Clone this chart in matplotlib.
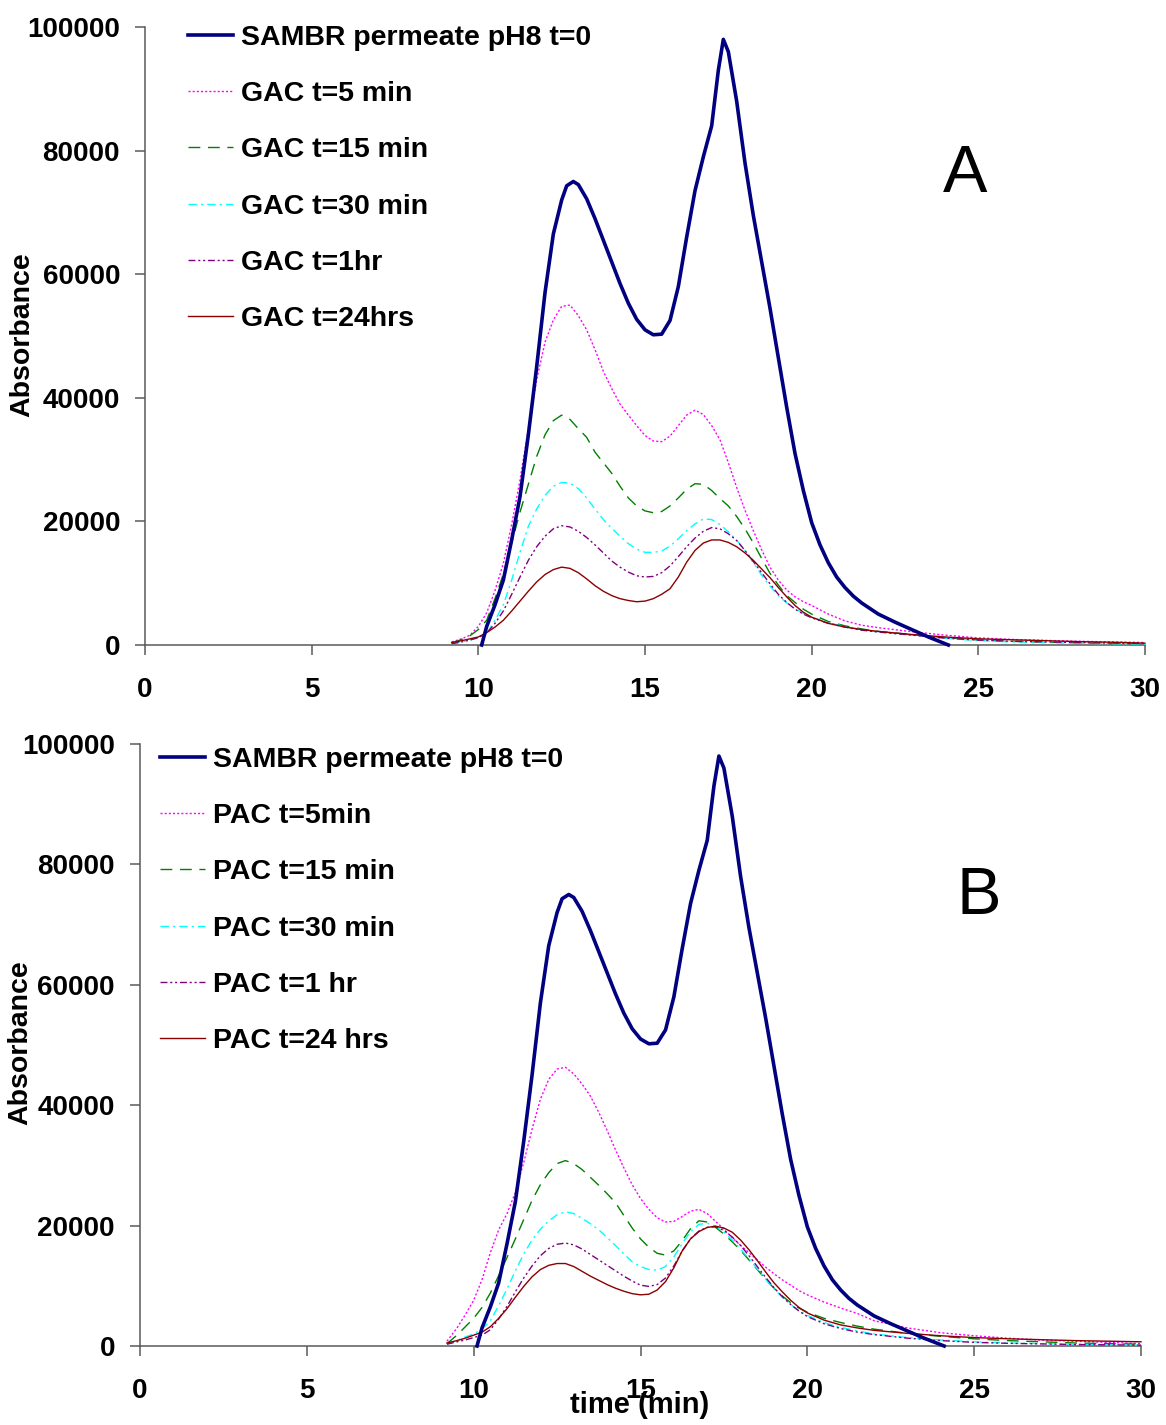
import numpy as np
import matplotlib
matplotlib.use("Agg")
import matplotlib.pyplot as plt

# ---------------- data ----------------
# reference run (same in both panels)
t_sambr = [10.1, 10.25, 10.5, 10.75, 11.0, 11.25, 11.5, 11.75, 12.0, 12.25, 12.5, 12.65, 12.85, 13.0,
           13.25, 13.5, 13.75, 14.0, 14.25, 14.5, 14.75, 15.0, 15.25, 15.5, 15.75, 16.0, 16.25,
           16.5, 16.75, 17.0, 17.2, 17.35, 17.5, 17.75, 18.0, 18.25, 18.5, 18.75, 19.0, 19.25,
           19.5, 19.75, 20.0, 20.25, 20.5, 20.75, 21.0, 21.25, 21.5, 22.0, 22.5, 23.0, 23.5, 24.1]
y_sambr = [0, 3000, 6500, 10500, 17000, 24000, 34000, 45000, 57000, 66500, 72000, 74300, 75000, 74500,
           72200, 69000, 65500, 62000, 58500, 55300, 52700, 51000, 50200, 50300, 52500, 58000, 66000,
           73500, 79000, 84000, 93000, 98000, 96000, 88000, 78000, 69500, 62000, 54500, 46500, 38500,
           31000, 25000, 19800, 16200, 13300, 11000, 9300, 7900, 6800, 5000, 3700, 2500, 1300, 0]

# common time grid for the treated samples
t_grid = [9.2, 9.5, 9.75, 10.0, 10.25, 10.5, 10.75, 11.0, 11.25, 11.5, 11.75, 12.0, 12.25, 12.5,
          12.75, 13.0, 13.25, 13.5, 13.75, 14.0, 14.25, 14.5, 14.75, 15.0, 15.25, 15.5, 15.75,
          16.0, 16.25, 16.5, 16.75, 17.0, 17.25, 17.5, 17.75, 18.0, 18.25, 18.5, 18.75, 19.0,
          19.25, 19.5, 19.75, 20.0, 20.5, 21.0, 21.5, 22.0, 23.0, 24.0, 25.0, 26.0, 27.0, 28.0,
          29.0, 30.0]

# Panel A : GAC
gac_5min = [500, 1000, 1600, 3000, 5200, 8800, 13200, 19500, 26700, 35000, 42900, 49000, 52600, 54800,
            55000, 53300, 51000, 47800, 44300, 41500, 39000, 37200, 35500, 33900, 33000, 32900, 33800,
            35500, 37200, 38000, 37300, 35500, 33200, 29500, 25500, 21800, 18500, 15400, 12600, 10500,
            8900, 7800, 7000, 6400, 5000, 3900, 3200, 2800, 2150, 1600, 1150, 900, 750, 600, 500, 400]
gac_15min = [300, 900, 1500, 2500, 4000, 7500, 11500, 16500, 21500, 26000, 30500, 34000, 36300, 37200,
             36500, 35000, 33600, 31200, 29500, 27800, 25700, 23800, 22500, 21700, 21400, 21600, 22500,
             23800, 25200, 26100, 26000, 25000, 23700, 22500, 20800, 18800, 16500, 14000, 11600, 9700,
             8000, 6900, 5800, 5000, 3800, 3100, 2600, 2200, 1700, 1200, 800, 600, 450, 350, 250, 200]
gac_30min = [200, 500, 800, 1200, 1900, 4000, 6500, 10500, 15000, 19200, 22000, 24200, 25700, 26300,
             26200, 25300, 23800, 22000, 20300, 18900, 17600, 16400, 15500, 15000, 15000, 15200, 16000,
             17200, 18500, 19600, 20400, 20300, 19500, 18300, 17000, 15300, 13300, 11300, 9500, 8000,
             6800, 5900, 5100, 4500, 3600, 3000, 2500, 2100, 1600, 1100, 700, 500, 400, 300, 200, 150]
gac_1hr = [200, 500, 800, 1200, 1900, 3500, 5500, 8200, 11000, 13700, 15900, 17600, 18800, 19300,
           19100, 18400, 17400, 16200, 14900, 13600, 12600, 11800, 11200, 11000, 11100, 11700, 12800,
           14300, 15900, 17300, 18400, 19000, 18800, 18000, 16900, 15300, 13500, 11700, 9900, 8200,
           6900, 5800, 5000, 4400, 3500, 2900, 2400, 2100, 1600, 1100, 800, 600, 500, 400, 300, 250]
gac_24hrs = [400, 700, 1000, 1300, 2000, 2900, 4000, 5500, 7100, 8700, 10200, 11400, 12200, 12600,
             12400, 11700, 10700, 9600, 8700, 8000, 7500, 7200, 7000, 7100, 7500, 8200, 9100,
             11000, 13400, 15300, 16500, 17000, 17000, 16600, 15900, 14900, 13700, 12300, 10900, 9300,
             7800, 6400, 5300, 4500, 3500, 2900, 2500, 2200, 1700, 1300, 1000, 850, 700, 550, 450, 300]

# Panel B : PAC
pac_5min = [800, 3000, 5200, 7600, 11000, 15500, 19300, 22000, 25500, 30500, 36000, 41000, 44300, 46000,
            46300, 45200, 43500, 41500, 38800, 35800, 32600, 29600, 26800, 24500, 22700, 21300, 20600,
            20700, 21500, 22400, 22700, 22000, 20700, 19400, 18000, 16700, 15500, 14300, 13100, 12000,
            11000, 10100, 9200, 8500, 7300, 6300, 5400, 4200, 3000, 2200, 1700, 1300, 1000, 800, 600, 400]
pac_15min = [400, 1800, 3200, 4600, 6400, 8800, 11700, 14700, 17800, 21000, 24200, 26800, 28800, 30300,
             30800, 30300, 29300, 28000, 26700, 25300, 23800, 21700, 19600, 17800, 16400, 15400, 15100,
             15800, 17500, 19500, 20800, 20600, 19700, 18600, 17300, 15900, 14300, 12700, 11100, 9600,
             8300, 7200, 6300, 5600, 4600, 3900, 3300, 2800, 2100, 1600, 1200, 900, 700, 500, 400, 300]
pac_30min = [300, 900, 1500, 2000, 2800, 4200, 6700, 9500, 12500, 15300, 17600, 19400, 20800, 21800,
             22300, 22000, 21200, 20300, 19300, 18000, 16700, 15300, 14000, 13200, 12700, 12600, 13200,
             14800, 17000, 19000, 20200, 20400, 19900, 18900, 17600, 16100, 14500, 12800, 11100, 9500,
             8100, 6900, 5900, 5100, 3900, 3100, 2500, 2000, 1400, 1000, 700, 500, 400, 300, 200, 150]
pac_1hr = [300, 700, 1000, 1400, 1800, 2700, 4500, 6600, 9000, 11300, 13300, 15000, 16200, 16900,
           17100, 16800, 16100, 15200, 14300, 13400, 12500, 11600, 10800, 10100, 9900, 10200, 11300,
           13300, 15800, 17800, 19100, 19700, 19800, 19200, 18100, 16700, 15000, 13200, 11400, 9700,
           8200, 6900, 5800, 4900, 3700, 2900, 2300, 1900, 1300, 900, 600, 450, 350, 250, 200, 150]
pac_24hrs = [500, 900, 1300, 1800, 2300, 3200, 4600, 6200, 8100, 9900, 11500, 12700, 13400, 13700,
             13700, 13200, 12400, 11600, 10900, 10200, 9600, 9100, 8700, 8500, 8600, 9300, 10700,
             13000, 15800, 17800, 19000, 19700, 19900, 19600, 18900, 17600, 16000, 14200, 12300, 10500,
             9000, 7600, 6400, 5500, 4300, 3500, 3000, 2600, 2100, 1700, 1400, 1200, 1050, 900, 800, 700]

labels_A = ["SAMBR permeate pH8 t=0", "GAC t=5 min", "GAC t=15 min", "GAC t=30 min",
            "GAC t=1hr", "GAC t=24hrs"]
labels_B = ["SAMBR permeate pH8 t=0", "PAC t=5min", "PAC t=15 min", "PAC t=30 min",
            "PAC t=1 hr", "PAC t=24 hrs"]
x_ticks = [0, 5, 10, 15, 20, 25, 30]
y_ticks = [0, 20000, 40000, 60000, 80000, 100000]

# ---------------- styling ----------------
styles = [
    dict(color="#000080", lw=2.6, ls="-"),
    dict(color="#FF00FF", lw=1.0, ls=(0, (1.5, 1.5))),
    dict(color="#008000", lw=1.0, ls=(0, (8.5, 5.5))),
    dict(color="#00FFFF", lw=1.0, ls=(0, (6, 3, 1.5, 3))),
    dict(color="#800080", lw=1.0, ls=(0, (5, 2, 1.5, 2, 1.5, 2))),
    dict(color="#8B0000", lw=1.0, ls="-"),
]

FONT = "Liberation Sans"
FS = 20.5
W, H = 1166, 1425
fig = plt.figure(figsize=(W / 100, H / 100), dpi=100)


def px_axes(l, r, b, t):
    return fig.add_axes([l / W, 1 - b / H, (r - l) / W, (b - t) / H])


def setup(ax):
    ax.set_xlim(0, 30)
    ax.set_ylim(0, 100000)
    ax.set_xticks(x_ticks)
    ax.set_yticks(y_ticks)
    for s in ["top", "right"]:
        ax.spines[s].set_visible(False)
    for s in ["left", "bottom"]:
        ax.spines[s].set_color("#5a5a5a")
        ax.spines[s].set_linewidth(1.1)
    ax.tick_params(axis="both", direction="out", length=7, width=1.1, color="#5a5a5a")
    ax.tick_params(axis="x", pad=16)
    ax.tick_params(axis="y", pad=11)
    for lab in ax.get_xticklabels() + ax.get_yticklabels():
        lab.set_fontfamily(FONT)
        lab.set_fontweight("bold")
        lab.set_fontsize(20)


def draw(ax, series, labels, leg_anchor):
    handles = []
    h, = ax.plot(t_sambr, y_sambr, **styles[0], clip_on=False, zorder=5)
    handles.append(h)
    for ys, st in zip(series, styles[1:]):
        h, = ax.plot(t_grid, ys, **st, clip_on=False, zorder=4)
        handles.append(h)
    leg = ax.legend(handles, labels, loc="upper left", bbox_to_anchor=leg_anchor,
                    frameon=False, borderpad=0, borderaxespad=0, handlelength=1.58,
                    handletextpad=0.28, labelspacing=1.06,
                    prop=dict(family=FONT, weight="bold", size=FS))
    return leg


axA = px_axes(145, 1145, 645, 27)
setup(axA)
draw(axA, [gac_5min, gac_15min, gac_30min, gac_1hr, gac_24hrs], labels_A,
     ((188 - 145) / 1000, (645 - 25) / 618))
axA.text((965 - 145) / 1000, (645 - 175) / 618, "A", transform=axA.transAxes,
         ha="center", va="center", fontsize=48, family=FONT)

axB = px_axes(140, 1141, 1346, 744)
setup(axB)
draw(axB, [pac_5min, pac_15min, pac_30min, pac_1hr, pac_24hrs], labels_B,
     ((160 - 140) / 1001, (1346 - 747) / 602))
axB.text((979 - 140) / 1001, (1346 - 897) / 602, "B", transform=axB.transAxes,
         ha="center", va="center", fontsize=48, family=FONT)

fig.text(22 / W, 1 - 335 / H, "Absorbance", rotation=90, ha="center", va="center",
         fontsize=FS, family=FONT, weight="bold")
fig.text(20 / W, 1 - 1043 / H, "Absorbance", rotation=90, ha="center", va="center",
         fontsize=FS, family=FONT, weight="bold")
fig.text(640 / W, 1 - 1405 / H, "time (min)", ha="center", va="center",
         fontsize=21, family=FONT, weight="bold")

fig.savefig("out.png", dpi=100)
